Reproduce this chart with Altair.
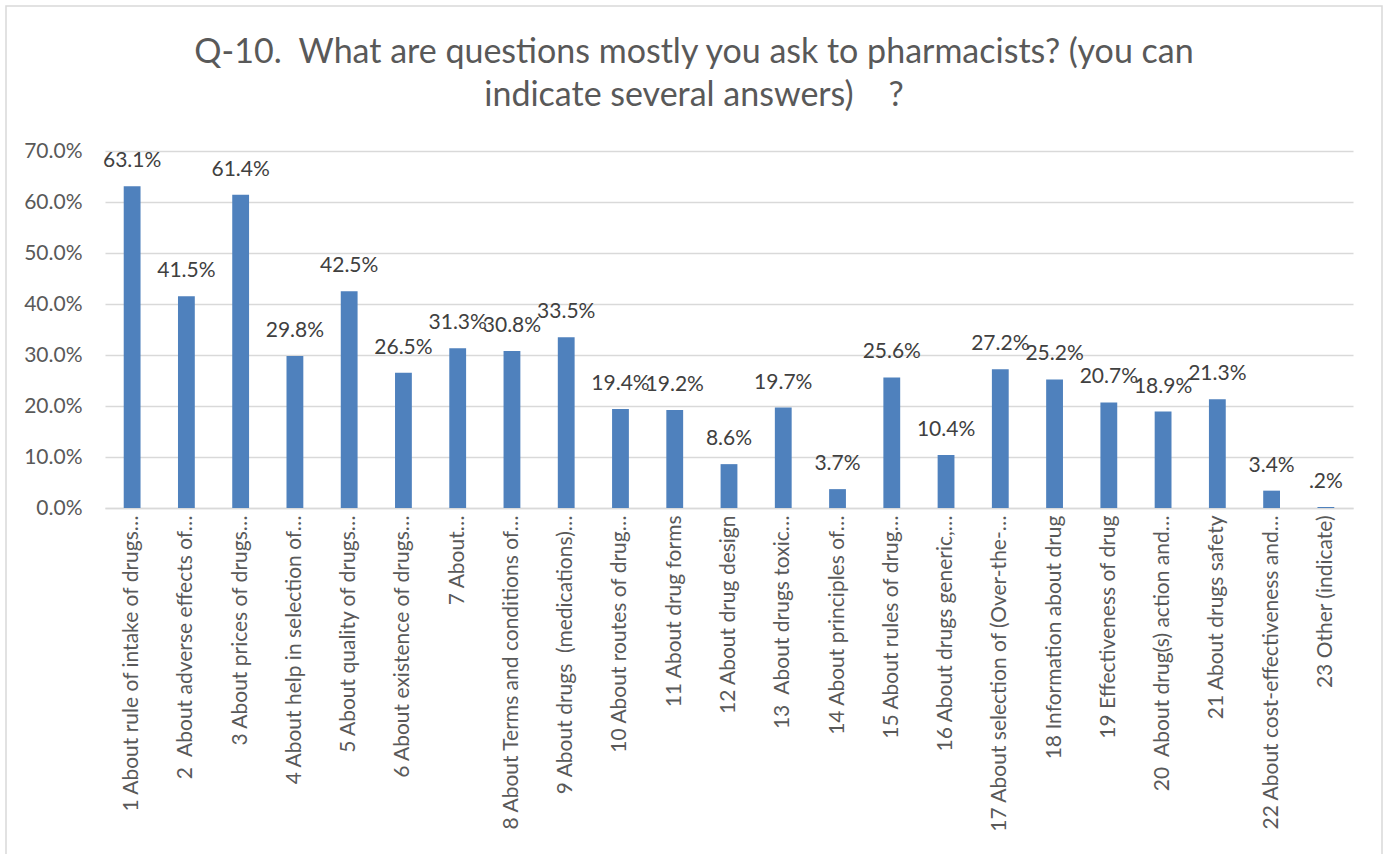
import altair as alt
import pandas as pd

NB = "\u00a0"
categories = [
    "1 About rule of intake of drugs…",
    "2" + NB + " About adverse effects of…",
    "3 About prices of drugs…",
    "4 About help in selection of…",
    "5 About quality of drugs…",
    "6 About existence of drugs…",
    "7 About…",
    "8 About Terms and conditions of…",
    "9 About drugs" + NB + " (medications)…",
    "10 About routes of drug…",
    "11 About drug forms",
    "12 About drug design",
    "13" + NB + " About drugs toxic…",
    "14 About principles of…",
    "15 About rules of drug…",
    "16 About drugs generic,…",
    "17 About selection of (Over-the-…",
    "18 Information about drug",
    "19 Effectiveness of drug",
    "20" + NB + " About drug(s) action and…",
    "21 About drugs safety",
    "22 About cost-effectiveness and…",
    "23 Other (indicate)",
]
values = [0.631, 0.415, 0.614, 0.298, 0.425, 0.265, 0.313, 0.308, 0.335, 0.194,
          0.192, 0.086, 0.197, 0.037, 0.256, 0.104, 0.272, 0.252, 0.207, 0.189,
          0.213, 0.034, 0.002]
value_labels = ["63.1%", "41.5%", "61.4%", "29.8%", "42.5%", "26.5%", "31.3%",
                "30.8%", "33.5%", "19.4%", "19.2%", "8.6%", "19.7%", "3.7%",
                "25.6%", "10.4%", "27.2%", "25.2%", "20.7%", "18.9%", "21.3%",
                "3.4%", ".2%"]
title_lines = ["Q-10." + NB + " What are questions mostly you ask to pharmacists? (you can",
               "indicate several answers)" + NB * 4 + "?"]

df = pd.DataFrame({"cat": categories, "val": values, "lab": value_labels})

FONT = "Lato"
GRAY = "#595959"
FS = 21

x_enc = alt.X("cat:N", sort=categories, title=None,
              scale=alt.Scale(paddingInner=0.69, paddingOuter=0.345),
              axis=alt.Axis(labelAngle=-90, labelFontSize=FS, labelColor=GRAY,
                            labelFont=FONT, labelLimit=400, ticks=False, grid=False,
                            domainColor="#d9d9d9", domainWidth=1.5, labelPadding=7,
                            labelAlign="right", labelBaseline="middle"))
y_enc = alt.Y("val:Q", title=None,
              scale=alt.Scale(domain=[0, 0.7], nice=False),
              axis=alt.Axis(format=".1%", values=[0, 0.1, 0.2, 0.3, 0.4, 0.5, 0.6, 0.7],
                            labelFontSize=FS, labelColor=GRAY, labelFont=FONT,
                            ticks=False, domain=False, gridColor="#d9d9d9",
                            gridWidth=1.3, labelPadding=23))

base = alt.Chart(df)

bars = base.mark_bar(color="#4f81bd").encode(x=x_enc, y=y_enc)

texts = base.mark_text(dy=-19, baseline="alphabetic", fontSize=FS,
                       color="#404040", font=FONT).encode(
    x=alt.X("cat:N", sort=categories), y="val:Q", text="lab:N")

border = alt.Chart(pd.DataFrame({"a": [0]})).mark_rect(
    fill=None, stroke="#d9d9d9", strokeWidth=1.5).encode(
    x=alt.value(-99), x2=alt.value(1277), y=alt.value(-145), y2=alt.value(760))

title_df = pd.DataFrame({"t": title_lines, "i": [0, 1]})
title1 = alt.Chart(title_df).transform_filter("datum.i == 0").mark_text(
    fontSize=34, font=FONT, color=GRAY, baseline="alphabetic", align="center").encode(
    text="t:N", x=alt.value(589), y=alt.value(-88))
title2 = alt.Chart(title_df).transform_filter("datum.i == 1").mark_text(
    fontSize=34, font=FONT, color=GRAY, baseline="alphabetic", align="center").encode(
    text="t:N", x=alt.value(589), y=alt.value(-45))

chart = alt.layer(border, bars, texts, title1, title2).properties(
    width=1248, height=357,
    autosize=alt.AutoSizeParams(type="none"),
    padding={"left": 105, "top": 151, "right": 35, "bottom": 346},
    background="white",
).configure_view(stroke=None)

chart.save("out.html", embed_options={"renderer": "svg", "actions": False})
